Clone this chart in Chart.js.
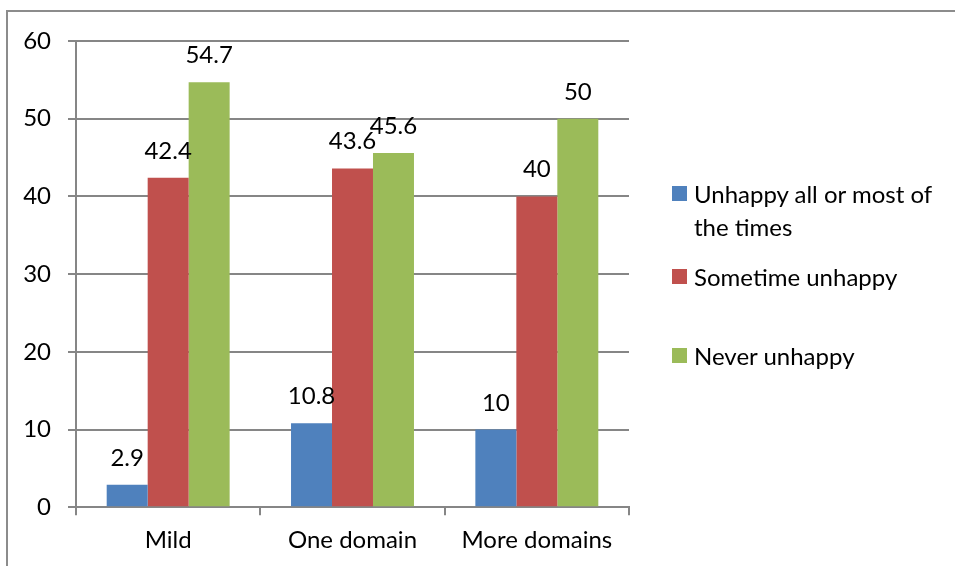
<!DOCTYPE html>
<html>
<head>
<meta charset="utf-8">
<script src="https://cdn.jsdelivr.net/npm/chart.js@4.4.1/dist/chart.umd.min.js"></script>
<style>
  html, body { margin: 0; padding: 0; background: #fff; }
  #wrap { position: relative; width: 955px; height: 566px; overflow: hidden; background: #fff; }
  #frame { position: absolute; left: 6px; top: 10px; width: 1000px; height: 600px; border: 2px solid #8c8c8c; box-sizing: border-box; }
  #chart { position: absolute; left: 0; top: 0; }
  #legend { position: absolute; left: 672px; top: 0; font-family: Lato, "Liberation Sans", sans-serif; font-size: 24px; color: #000; }
  .item { position: absolute; left: 0; display: flex; align-items: flex-start; white-space: nowrap; }
  .swatch { width: 15px; height: 15px; margin-top: 9px; margin-right: 7px; flex: none; }
  .text { line-height: 33px; white-space: normal; width: 262px; }
</style>
</head>
<body>
<div id="wrap">
  <div id="frame"></div>
  <canvas id="chart" width="955" height="566"></canvas>
  <div id="legend"></div>
</div>
<script>
const categories = ["Mild", "One domain", "More domains"];
const seriesNames = ["Unhappy all or most of the times", "Sometime unhappy", "Never unhappy"];
const unhappyMost = [2.9, 10.8, 10];
const sometimeUnhappy = [42.4, 43.6, 40];
const neverUnhappy = [54.7, 45.6, 50];
const yTicks = [0, 10, 20, 30, 40, 50, 60];

const colors = ["#4F81BD", "#C0504D", "#9BBB59"];
const series = [unhappyMost, sometimeUnhappy, neverUnhappy];
const FONT = "Lato, 'Liberation Sans', sans-serif";

// Value labels drawn above each bar
const valueLabels = {
  id: "valueLabels",
  afterDatasetsDraw(chart) {
    const ctx = chart.ctx;
    ctx.save();
    ctx.font = "24px " + FONT;
    ctx.fillStyle = "#000";
    ctx.textAlign = "center";
    ctx.textBaseline = "alphabetic";
    chart.data.datasets.forEach((ds, i) => {
      chart.getDatasetMeta(i).data.forEach((bar, j) => {
        ctx.fillText(String(ds.data[j]), bar.x, bar.y - 19);
      });
    });
    ctx.restore();
  }
};

const chart = new Chart(document.getElementById("chart"), {
  type: "bar",
  data: {
    labels: categories,
    datasets: series.map((vals, i) => ({
      label: seriesNames[i],
      data: vals,
      backgroundColor: colors[i],
      borderWidth: 0,
      categoryPercentage: 0.667,
      barPercentage: 1.0
    }))
  },
  options: {
    responsive: false,
    animation: false,
    events: [],
    layout: { padding: { left: 0, right: 326, top: 41, bottom: 0 } },
    plugins: { legend: { display: false }, tooltip: { enabled: false } },
    scales: {
      x: {
        offset: true,
        grid: { display: true, drawOnChartArea: false, drawTicks: true, tickLength: 8, color: "#868686", lineWidth: 2, offset: true },
        border: { display: true, color: "#868686", width: 2 },
        ticks: { color: "#000", font: { family: FONT, size: 24 }, padding: 11, maxRotation: 0 }
      },
      y: {
        min: 0,
        max: 60,
        afterBuildTicks(scale) { scale.ticks = yTicks.map(v => ({ value: v })); },
        afterFit(scale) { scale.width = 76; },
        grid: { color: "#868686", lineWidth: 2, tickLength: 8 },
        border: { display: true, color: "#868686", width: 2 },
        ticks: { color: "#000", font: { family: FONT, size: 24 }, padding: 17 }
      }
    }
  },
  plugins: [valueLabels]
});

// Legend built from the datasets
const legendTops = [177, 260, 339];
const legend = document.getElementById("legend");
chart.data.datasets.forEach((ds, i) => {
  const item = document.createElement("div");
  item.className = "item";
  item.style.top = legendTops[i] + "px";
  const sw = document.createElement("div");
  sw.className = "swatch";
  sw.style.background = ds.backgroundColor;
  const tx = document.createElement("div");
  tx.className = "text";
  tx.textContent = ds.label;
  item.appendChild(sw);
  item.appendChild(tx);
  legend.appendChild(item);
});
</script>
</body>
</html>
